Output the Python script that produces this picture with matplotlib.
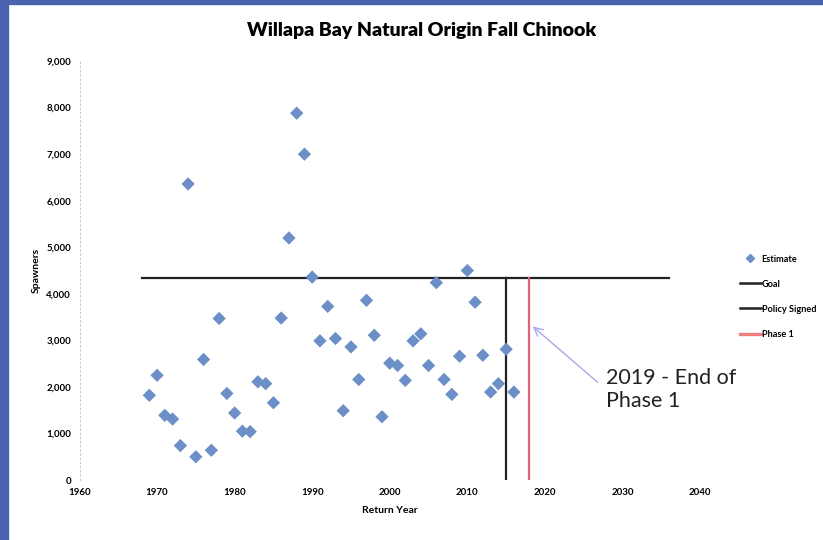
import matplotlib.pyplot as plt
from matplotlib.patches import Rectangle
from matplotlib.lines import Line2D

# ── data ──────────────────────────────────────
years = list(range(1969, 2017))
spawners = [
    1820, 2250, 1390, 1310, 740, 6360, 500, 2590, 640, 3470,
    1860, 1440, 1050, 1040, 2110, 2070, 1660, 3480, 5200, 7880,
    7000, 4360, 2990, 3730, 3040, 1490, 2860, 2160, 3860, 3110,
    1360, 2510, 2460, 2140, 2990, 3140, 2460, 4240, 2160, 1840,
    2660, 4500, 3820, 2680, 1890, 2070, 2810, 1890,
]
goal_value = 4350
goal_span = [1968, 2036]
policy_year = 2015
phase1_year = 2018

x_ticks = list(range(1960, 2041, 10))
y_ticks = list(range(0, 9001, 1000))

BLUE = "#6b8fc6"
RED = "#e0607a"

plt.rcParams["font.family"] = ["Lato", "DejaVu Sans"]

fig = plt.figure(figsize=(8.23, 5.40), dpi=100)
ax = fig.add_axes([0.0966, 0.111, 0.754, 0.776])

# slide border (blue frame from the screenshot)
fig.patches.append(Rectangle((0, 0), 0.010, 1, transform=fig.transFigure,
                             color="#4a63b0", zorder=-1))
fig.patches.append(Rectangle((0, 0.992), 1, 0.008, transform=fig.transFigure,
                             color="#4a63b0", zorder=-1))

# goal + vertical markers
ax.plot(goal_span, [goal_value, goal_value], color="#222222", lw=1.6, zorder=2)
ax.plot([policy_year, policy_year], [0, goal_value], color="#222222", lw=1.6, zorder=2)
ax.plot([phase1_year, phase1_year], [0, goal_value], color=RED, lw=1.6, zorder=2)

ax.scatter(years, spawners, marker="D", s=46, color=BLUE, zorder=3,
           edgecolors="none")

ax.set_xlim(1960, 2040)
ax.set_ylim(0, 9000)
ax.set_xticks(x_ticks)
ax.set_yticks(y_ticks)
ax.set_yticklabels([f"{v:,}" for v in y_ticks])
ax.tick_params(length=0, labelsize=7, pad=6)
for lab in ax.get_xticklabels() + ax.get_yticklabels():
    lab.set_fontweight("bold")
for s in ["top", "right", "bottom"]:
    ax.spines[s].set_visible(False)
ax.spines["left"].set_color("#bbbbbb")
ax.spines["left"].set_linestyle((0, (2, 3)))
ax.spines["left"].set_linewidth(0.6)

ax.set_xlabel("Return Year", fontsize=7.5, fontweight="bold", labelpad=6)
ax.set_ylabel("Spawners", fontsize=7.5, fontweight="bold", labelpad=4)

fig.text(0.512, 0.944, "Willapa Bay Natural Origin Fall Chinook",
         ha="center", va="center", fontsize=14, fontweight="heavy")

# annotation
ax.annotate("2019 - End of\nPhase 1", xy=(2018.3, 3320), xytext=(2027.9, 1950),
            fontsize=15.5, va="center", ha="left", color="#222222",
            linespacing=1.2,
            arrowprops=dict(arrowstyle="->", color="#a8a8e8", lw=1.0,
                            shrinkA=2, shrinkB=1,
                            relpos=(-0.05, 0.62)))

handles = [
    Line2D([], [], marker="D", color=BLUE, ls="none", markersize=4.5),
    Line2D([], [], color="#222222", lw=1.8),
    Line2D([], [], color="#222222", lw=1.8),
    Line2D([], [], color="#f08080", lw=2.4),
]
labels = ["Estimate", "Goal", "Policy Signed", "Phase 1"]
leg = fig.legend(handles, labels, loc="upper left",
                 bbox_to_anchor=(0.893, 0.537), frameon=False,
                 fontsize=6.6, handlelength=2.3, handletextpad=0.1,
                 labelspacing=1.75, borderpad=0)
for t in leg.get_texts():
    t.set_fontweight("bold")

fig.savefig("out.png", dpi=100)
